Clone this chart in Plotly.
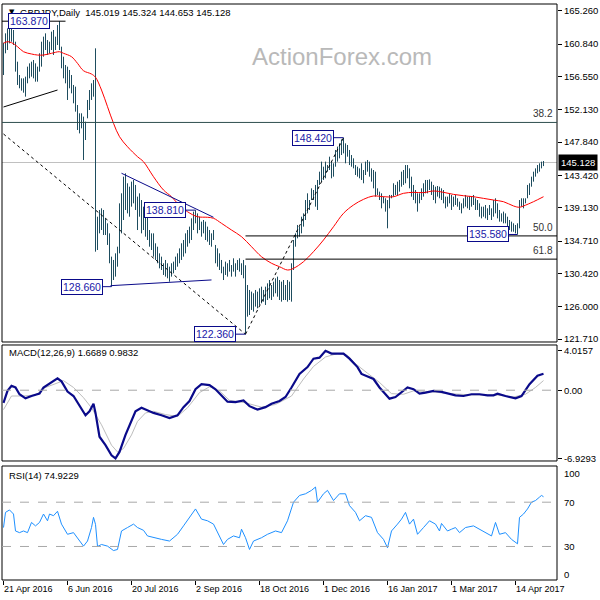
import plotly.graph_objects as go

# ---------------- data ----------------
symbol_title = "GBPJPY,Daily"
last_ohlc = ["145.019", "145.324", "144.653", "145.128"]
last_close = 145.128

date_tick_idx = [0, 32, 64, 96, 128, 160, 192, 224, 256]
date_tick_txt = ["21 Apr 2016", "6 Jun 2016", "20 Jul 2016", "2 Sep 2016", "18 Oct 2016",
                 "1 Dec 2016", "16 Jan 2017", "1 Mar 2017", "14 Apr 2017"]

price_ticks = [165.26, 160.84, 156.55, 152.13, 147.84, 143.42, 139.13, 134.71, 130.42, 126.00, 121.71]
price_tick_txt = ["165.260", "160.840", "156.550", "152.130", "147.840", "143.420", "139.130",
                  "134.710", "130.420", "126.000", "121.710"]

highs = [
    161.02, 162.26, 162.92, 163.14, 163.05, 162.70, 161.15, 158.50, 156.73, 156.29,
    156.29, 156.51, 157.84, 158.28, 158.50, 158.72, 158.28, 157.84, 159.61, 161.15,
    161.82, 162.26, 161.37, 161.15, 162.48, 162.70, 161.82, 163.36, 163.87, 160.49,
    159.16, 158.06, 157.84, 157.40, 156.73, 155.41, 155.19, 152.75, 151.65, 151.65,
    151.21, 150.54, 153.42, 154.74, 155.63, 156.07, 160.27, 137.94, 138.83, 139.05,
    138.83, 137.72, 137.06, 135.73, 132.64, 132.20, 133.08, 133.96, 139.71, 141.04,
    143.25, 143.69, 142.37, 141.92, 142.59, 142.81, 142.15, 140.60, 141.04, 140.15,
    139.27, 138.83, 137.94, 136.17, 135.73, 135.73, 134.41, 133.96, 133.08, 132.64,
    131.76, 132.20, 131.76, 131.31, 131.76, 131.98, 132.64, 133.08, 133.74, 134.41,
    134.85, 135.73, 136.17, 136.62, 137.72, 138.61, 138.81, 138.38, 137.94, 137.28,
    137.50, 137.28, 136.62, 136.17, 135.73, 136.17, 134.19, 133.74, 133.08, 132.20,
    131.31, 131.98, 131.76, 132.20, 131.53, 132.42, 131.76, 132.20, 132.42, 131.76,
    132.20, 131.50, 128.88, 128.22, 128.00, 127.78, 128.22, 128.00, 128.44, 128.66,
    128.22, 128.66, 129.10, 129.54, 128.88, 129.32, 129.76, 129.99, 129.54, 129.32,
    129.54, 128.88, 129.54, 129.32, 131.76, 134.85, 135.73, 136.84, 136.62, 137.94,
    138.38, 140.15, 141.04, 140.15, 141.70, 141.48, 142.15, 142.81, 143.91, 145.24,
    144.57, 145.24, 144.79, 145.90, 145.24, 145.02, 146.79, 147.23, 147.67, 148.20,
    148.42, 147.67, 147.45, 146.79, 146.12, 145.68, 144.79, 144.57, 144.35, 145.02,
    144.13, 145.24, 145.46, 145.24, 144.35, 144.13, 143.91, 141.70, 141.26, 141.04,
    140.60, 140.38, 140.15, 140.82, 140.82, 142.37, 142.15, 142.59, 142.81, 143.91,
    144.13, 144.79, 144.79, 144.35, 143.25, 142.15, 141.48, 141.04, 141.04, 141.70,
    142.37, 142.81, 142.81, 142.89, 142.59, 142.15, 141.92, 142.01, 141.92, 141.70,
    141.48, 140.60, 140.60, 140.95, 140.82, 140.60, 140.82, 140.38, 139.93, 139.71,
    140.38, 140.82, 140.60, 140.69, 140.60, 140.82, 140.38, 140.15, 139.71, 139.27,
    139.27, 139.49, 139.05, 139.49, 139.05, 140.15, 140.38, 139.71, 138.83, 138.38,
    138.61, 138.38, 137.94, 137.50, 137.28, 137.06, 136.84, 137.06, 140.15, 140.38,
    140.38, 140.38, 142.15, 142.37, 143.25, 143.91, 144.35, 144.79, 145.02, 145.24,
    145.324]

lows = [
    156.73, 159.61, 160.05, 160.93, 161.15, 160.71, 157.18, 155.41, 154.97, 154.66,
    154.39, 153.86, 155.63, 156.29, 156.51, 156.29, 155.85, 155.85, 157.18, 157.84,
    159.16, 160.05, 159.39, 159.61, 160.05, 159.39, 160.05, 160.71, 160.05, 157.62,
    156.29, 155.63, 153.42, 154.97, 154.30, 152.98, 151.87, 149.44, 148.99, 149.66,
    145.46, 148.11, 150.99, 152.09, 153.42, 153.86, 133.30, 133.52, 135.73, 136.17,
    135.51, 135.51, 134.19, 131.76, 128.66, 129.54, 129.99, 131.31, 133.08, 135.73,
    137.50, 138.83, 138.38, 137.94, 139.27, 139.71, 138.83, 136.17, 137.94, 135.73,
    136.17, 135.29, 134.85, 133.96, 133.52, 132.64, 132.20, 131.76, 131.09, 130.87,
    130.21, 129.99, 129.77, 129.32, 129.99, 130.43, 130.87, 131.31, 131.76, 132.20,
    132.64, 133.08, 133.96, 134.41, 134.85, 136.17, 137.06, 135.73, 136.17, 135.29,
    135.73, 134.85, 134.63, 134.19, 133.96, 134.85, 131.76, 131.31, 130.87, 130.43,
    129.54, 130.21, 129.99, 130.65, 129.99, 130.65, 129.99, 130.87, 130.65, 130.21,
    129.77, 122.36, 124.68, 124.90, 125.57, 125.35, 126.01, 125.79, 126.23, 126.45,
    126.67, 126.23, 126.89, 127.11, 126.89, 127.33, 127.78, 127.33, 126.89, 126.67,
    126.89, 126.89, 126.67, 126.89, 126.67, 130.87, 133.96, 135.07, 135.29, 135.73,
    136.62, 137.50, 138.38, 138.83, 140.15, 140.15, 139.27, 138.83, 142.15, 142.59,
    142.81, 143.03, 143.91, 144.13, 143.03, 143.25, 144.57, 145.24, 145.68, 146.12,
    146.34, 145.02, 145.90, 144.79, 144.57, 144.35, 143.47, 143.25, 143.03, 142.81,
    142.37, 143.47, 143.91, 143.25, 142.59, 141.70, 140.60, 140.82, 140.15, 139.05,
    139.71, 138.61, 136.40, 139.05, 140.38, 140.60, 140.82, 140.82, 141.26, 141.92,
    142.15, 142.37, 143.03, 141.70, 140.60, 140.15, 139.71, 138.61, 139.71, 140.15,
    140.60, 141.04, 141.04, 141.48, 140.82, 140.15, 139.71, 140.60, 140.38, 140.15,
    139.71, 139.05, 139.27, 139.71, 138.83, 139.27, 139.49, 139.27, 138.83, 138.38,
    139.05, 139.27, 139.05, 138.83, 139.27, 139.49, 138.83, 138.83, 137.94, 137.72,
    137.94, 137.72, 137.50, 138.16, 137.50, 137.94, 138.38, 137.72, 137.28, 137.28,
    137.06, 137.06, 136.40, 136.17, 135.95, 135.95, 135.73, 135.58, 136.40, 139.27,
    139.05, 139.71, 140.38, 140.82, 141.92, 142.59, 143.25, 143.69, 143.91, 144.35,
    144.653]

ma_idx = [0, 2, 4, 7, 10, 14, 17, 20, 24, 28, 30, 34, 37, 40, 44, 46, 49, 52, 55, 58,
          62, 67, 70, 75, 80, 84, 87, 92, 97, 102, 105, 109, 114, 119, 124, 129, 134, 138, 142, 145,
          150, 155, 160, 165, 170, 175, 180, 185, 190, 195, 200, 205, 210, 215, 220, 225, 230, 235, 240, 245,
          250, 255, 258, 260, 265, 270]
ma_val = [160.94, 161.15, 161.02, 160.49, 159.82, 159.52, 159.38, 159.38, 159.61, 159.82,
          159.61, 159.16, 158.28, 157.30, 156.86, 156.43, 154.74, 152.53, 150.33, 148.55,
          147.22, 145.90, 145.23, 143.24, 141.48, 140.59, 139.71, 138.60, 137.94, 137.86,
          137.73, 137.06, 136.17, 135.29, 133.96, 132.63, 131.76, 131.31, 130.87, 131.09,
          131.97, 133.30, 134.85, 136.61, 138.39, 139.49, 140.24, 140.68, 140.59, 140.59,
          141.04, 141.17, 141.13, 141.35, 141.17, 140.90, 140.72, 140.59, 140.37, 140.15,
          139.93, 139.36, 139.19, 139.36, 139.93, 140.59]

macd_idx = [0, 2, 4, 6, 8, 11, 14, 18, 20, 23, 27, 29, 32, 35, 38, 41, 43, 45, 46, 48,
            51, 54, 56, 58, 61, 64, 66, 69, 72, 75, 79, 83, 87, 90, 93, 96, 99, 103, 106, 109,
            112, 116, 120, 123, 127, 131, 134, 138, 141, 144, 148, 152, 155, 158, 161, 164, 167, 170, 173, 177,
            179, 182, 185, 188, 191, 193, 196, 199, 202, 205, 208, 211, 215, 219, 223, 226, 230, 234, 238, 242,
            245, 247, 251, 256, 259, 263, 267, 270]
macd_val = [-1.28, -0.07, 0.45, 0.28, -0.41, -0.83, -0.59, -0.35, 0.28, 0.69, 1.21, 0.90, -0.14, -0.59, -1.62,
            -2.55, -2.14, -1.38, -2.31, -4.73, -5.59, -6.62, -6.93, -6.28, -4.55, -3.00, -2.14, -1.79, -2.04,
            -2.31, -2.55, -2.83, -2.55, -1.72, -1.10, 0.10, 0.62, 0.52, 0.10, -0.59, -1.17, -1.21, -1.03, -1.62,
            -1.97, -1.72, -1.38, -1.10, -0.69, 0.28, 1.66, 2.35, 3.21, 3.31, 4.0157, 3.73, 3.73, 3.73, 3.21,
            2.35, 1.66, 1.38, 1.14, 0.28, -0.41, -0.86, -0.69, -0.24, 0.28, 0.10, -0.35, -0.24, -0.07, -0.17,
            -0.41, -0.52, -0.59, -0.41, -0.41, -0.52, -0.52, -0.35, -0.59, -0.83, -0.59, 0.62, 1.48, 1.6689]

signal_idx = [0, 4, 10, 16, 21, 30, 35, 40, 44, 49, 54, 57, 60, 64, 67, 71, 75, 81, 87, 92,
              98, 103, 108, 113, 121, 129, 136, 144, 150, 155, 161, 167, 172, 176, 182, 188, 194, 200, 205, 213,
              223, 234, 246, 255, 261, 266, 270]
signal_val = [-1.97, -0.59, -0.59, -0.48, 0.28, 0.97, 0.28, -0.76, -1.79, -3.52, -5.59, -6.28, -5.93, -4.55,
              -3.17, -2.31, -2.14, -2.48, -2.66, -1.79, -0.24, 0.35, -0.07, -1.03, -1.28, -1.72, -1.45, -0.59,
              1.14, 2.42, 3.38, 3.73, 3.55, 2.69, 1.73, 0.79, -0.35, -0.41, -0.07, -0.14, -0.35, -0.48, -0.48,
              -0.69, -0.41, 0.28, 0.9832]

rsi_idx = [0, 1, 3, 5, 6, 8, 10, 12, 14, 16, 18, 20, 22, 23, 25, 27, 29, 32, 35, 38,
           40, 42, 44, 45, 46, 47, 49, 52, 55, 57, 59, 62, 65, 67, 70, 72, 75, 79, 83, 87,
           90, 94, 96, 99, 102, 105, 108, 110, 112, 115, 118, 119, 121, 123, 125, 129, 132, 136, 139, 142,
           145, 148, 151, 154, 156, 157, 160, 162, 165, 168, 171, 173, 176, 178, 181, 184, 187, 190, 192, 194,
           197, 199, 201, 203, 205, 207, 210, 213, 216, 218, 219, 222, 224, 226, 228, 231, 235, 238, 241, 244,
           246, 248, 251, 254, 257, 258, 260, 262, 264, 266, 268, 269, 270]
rsi_val = [47.1, 60.8, 63.0, 59.3, 44.0, 42.5, 44.0, 42.5, 51.7, 48.6, 51.7, 59.3, 53.2, 59.3, 57.8, 61.8, 50.2,
           41.0, 42.5, 34.9, 30.3, 34.9, 47.1, 56.3, 50.0, 30.0, 31.8, 30.3, 26.3, 27.3, 44.0, 47.1, 50.2, 47.1,
           44.6, 39.5, 37.9, 36.4, 34.9, 41.0, 48.6, 59.3, 63.9, 54.7, 53.2, 50.2, 39.5, 31.8, 36.4, 39.5, 37.9,
           45.6, 37.9, 27.3, 34.9, 37.9, 41.0, 44.0, 42.5, 53.2, 70.0, 76.1, 77.6, 80.7, 83.7, 70.0, 77.6, 80.7,
           71.5, 77.6, 77.6, 66.9, 60.8, 53.2, 57.8, 56.3, 42.5, 36.4, 28.8, 44.0, 50.2, 54.7, 60.8, 50.2, 54.7,
           41.0, 47.1, 53.2, 50.2, 44.0, 50.8, 44.0, 45.6, 47.1, 42.5, 47.1, 48.6, 45.6, 42.5, 39.5, 51.7, 41.0,
           42.5, 36.4, 32.4, 56.3, 59.3, 63.9, 70.0, 71.5, 74.6, 76.1, 74.9229]

# annotations on the price panel (values shown on chart)
level_labels = [163.870, 138.810, 128.660, 122.360, 148.420, 135.580]
level_label_idx = [23, 91, 49.5, 116, 165, 252.5]     # bar index of label box right edge
level_bar_idx = [31, 96, 54, 121, 170, 257]           # bar the label points to
fib_levels = [150.44, 135.39, 132.31]
fib_text = ["38.2", "50.0", "61.8"]
fib_start_idx = [-1, 121, 121]
upper_tri = ([59, 105], [143.70, 137.86])
lower_tri = ([53.5, 104], [128.79, 129.55])
left_line = ([0, 27], [152.49, 154.74])
dot_down = ([0, 121], [148.91, 122.36])
dot_up = ([121, 170], [122.36, 148.42])

# ---------------- figure ----------------
BAR_COL = "#1e4d5f"
NAVY = "#0a0a8a"
FONT = "Liberation Sans"

fig = go.Figure()

bx, by = [], []
for i, (h, l) in enumerate(zip(highs, lows)):
    bx += [i, i, None]
    by += [l, h, None]
fig.add_trace(go.Scatter(x=bx, y=by, mode="lines", line=dict(color=BAR_COL, width=1),
                         yaxis="y", hoverinfo="skip"))
fig.add_trace(go.Scatter(x=ma_idx, y=ma_val, mode="lines", line=dict(color="#ff0000", width=1),
                         yaxis="y", line_shape="spline"))

fig.add_trace(go.Scatter(x=signal_idx, y=signal_val, mode="lines", line=dict(color="#bdbdbd", width=1),
                         yaxis="y2"))
fig.add_trace(go.Scatter(x=macd_idx, y=macd_val, mode="lines", line=dict(color=NAVY, width=2.2),
                         yaxis="y2"))

fig.add_trace(go.Scatter(x=rsi_idx, y=rsi_val, mode="lines", line=dict(color="#1e90ff", width=1),
                         yaxis="y3"))

XR = [-0.75, 276.75]
dom_price = [0.4132, 1.0]
dom_macd = [0.2066, 0.4080]
dom_rsi = [0.0, 0.1979]

shapes = []
# panel frames
for d in (dom_price, dom_macd, dom_rsi):
    shapes.append(dict(type="rect", xref="paper", yref="paper", x0=0, x1=1, y0=d[0], y1=d[1],
                       line=dict(color="black", width=1), fillcolor="rgba(0,0,0,0)", layer="above"))
# fib / current price lines
shapes.append(dict(type="line", xref="paper", yref="y", x0=0, x1=1, y0=last_close, y1=last_close,
                   line=dict(color="#c0c0c0", width=1), layer="below"))
for lv, st in zip(fib_levels, fib_start_idx):
    shapes.append(dict(type="line", xref="x", yref="y", x0=st, x1=XR[1], y0=lv, y1=lv,
                       line=dict(color="#2f4f4f" if st < 0 else "black", width=1)))
# top-left high line
shapes.append(dict(type="line", xref="x", yref="y", x0=-1, x1=31, y0=163.87, y1=163.87,
                   line=dict(color="black", width=1)))
shapes.append(dict(type="line", xref="x", yref="y", x0=left_line[0][0], x1=left_line[0][1],
                   y0=left_line[1][0], y1=left_line[1][1], line=dict(color="black", width=1)))
for ln in (dot_down, dot_up):
    shapes.append(dict(type="line", xref="x", yref="y", x0=ln[0][0], x1=ln[0][1], y0=ln[1][0], y1=ln[1][1],
                       line=dict(color="black", width=1, dash="dot")))
for ln in (upper_tri, lower_tri):
    shapes.append(dict(type="line", xref="x", yref="y", x0=ln[0][0], x1=ln[0][1], y0=ln[1][0], y1=ln[1][1],
                       line=dict(color=NAVY, width=1)))
for v, li, bi in zip(level_labels, level_label_idx, level_bar_idx):
    if v == 163.870:
        continue
    shapes.append(dict(type="line", xref="x", yref="y", x0=li, x1=bi, y0=v, y1=v,
                       line=dict(color=NAVY, width=1)))
# dashed indicator levels
shapes.append(dict(type="line", xref="paper", yref="y2", x0=0, x1=1, y0=0, y1=0,
                   line=dict(color="#a8a8a8", width=1, dash="dash")))
for lv in (70, 30):
    shapes.append(dict(type="line", xref="paper", yref="y3", x0=0, x1=1, y0=lv, y1=lv,
                       line=dict(color="#a8a8a8", width=1, dash="dash")))

ann = []
ann.append(dict(xref="paper", yref="paper", x=0, y=1, xshift=5, yshift=-8, xanchor="left", yanchor="middle",
                text="▼", showarrow=False, font=dict(family="DejaVu Sans", size=7, color="black")))
ann.append(dict(xref="paper", yref="paper", x=0, y=1, xshift=16, yshift=-8, xanchor="left", yanchor="middle",
                text=symbol_title + "  " + " ".join(last_ohlc), showarrow=False,
                font=dict(family=FONT, size=9.5, color="black")))
ann.append(dict(xref="paper", yref="paper", x=0.6126, y=0.908, xanchor="center", yanchor="middle",
                text="ActionForex.com", showarrow=False, font=dict(family=FONT, size=24, color="#b9b9b9")))
for v, li in zip(level_labels, level_label_idx):
    ann.append(dict(xref="x", yref="y", x=li, y=v, xanchor="right", yanchor="middle", text=f"{v:.3f}",
                    showarrow=False, bgcolor="white", bordercolor=NAVY, borderwidth=1, borderpad=1,
                    font=dict(family=FONT, size=10.5, color="#2020a8")))
for lv, t in zip(fib_levels, fib_text):
    ann.append(dict(xref="paper", yref="y", x=1, y=lv, xshift=-2, yshift=1, xanchor="right", yanchor="bottom",
                    text=t, showarrow=False, font=dict(family=FONT, size=10, color="#333333")))
ann.append(dict(xref="paper", yref="y", x=1, y=last_close, xshift=1, xanchor="left", yanchor="middle",
                text=f"{last_close:.3f}", showarrow=False, bgcolor="black", borderpad=2,
                font=dict(family=FONT, size=9.5, color="white")))
ann.append(dict(xref="paper", yref="paper", x=0, y=dom_macd[1], xshift=5, yshift=-8, xanchor="left",
                yanchor="middle", text=f"MACD(12,26,9) {macd_val[-1]:.4f} {signal_val[-1]:.4f}", showarrow=False,
                font=dict(family=FONT, size=9.5, color="black")))
ann.append(dict(xref="paper", yref="paper", x=0, y=dom_rsi[1], xshift=5, yshift=-9, xanchor="left",
                yanchor="middle", text=f"RSI(14) {rsi_val[-1]:.4f}", showarrow=False,
                font=dict(family=FONT, size=9.5, color="black")))

axfont = dict(family=FONT, size=9.5, color="black")
fig.update_layout(
    width=600, height=600,
    margin=dict(l=2, r=43, t=4, b=20),
    paper_bgcolor="white", plot_bgcolor="white",
    showlegend=False,
    xaxis=dict(range=XR, anchor="y3", showgrid=False, zeroline=False,
               tickvals=date_tick_idx, ticktext=date_tick_txt, ticks="outside", ticklen=4,
               tickcolor="black", ticklabelposition="outside right",
               tickfont=dict(family=FONT, size=9, color="black")),
    yaxis=dict(domain=dom_price, range=[121.32, 166.15], side="right", anchor="x", showgrid=False,
               zeroline=False, tickvals=price_ticks, ticktext=price_tick_txt, ticks="outside",
               ticklen=4, tickcolor="black", tickfont=axfont),
    yaxis2=dict(domain=dom_macd, range=[-7.2, 4.6], side="right", anchor="x", showgrid=False,
                zeroline=False, tickvals=[4.0157, 0, -6.9293], ticktext=["4.0157", "0.00", "-6.9293"],
                ticks="outside", ticklen=4, tickcolor="black", tickfont=axfont),
    yaxis3=dict(domain=dom_rsi, range=[-0.3, 102.7], side="right", anchor="x", showgrid=False,
                zeroline=False, tickvals=[95.5, 70, 30, 4.5], ticktext=["100", "70", "30", "0"],
                ticks="", tickfont=axfont, ticklabelstandoff=6),
    shapes=shapes, annotations=ann,
)

fig.write_html("out.html", config={"displayModeBar": False},
               post_script="document.body.style.margin='0';document.body.style.overflow='hidden';")
